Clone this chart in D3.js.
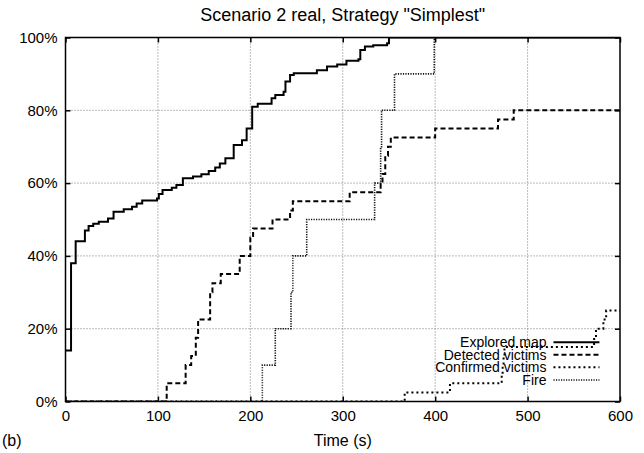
<!DOCTYPE html>
<html>
<head>
<meta charset="utf-8">
<script src="https://cdn.jsdelivr.net/npm/d3@7"></script>
<style>
  body { margin: 0; background: #fff; }
  svg { font-family: "Liberation Sans", Arial, sans-serif; }
</style>
</head>
<body>
<div id="chart"></div>
<script>
// tick labels
var xTicks = [0, 100, 200, 300, 400, 500, 600];
var yTicks = [0, 20, 40, 60, 80, 100];

// series (time in s, value in %)
var exploredT = [0, 6, 11, 21, 25, 30, 36, 46, 52, 63, 72, 77, 83, 99, 101, 105, 115, 120, 127, 138, 147, 155, 162, 167, 173, 182, 191, 196, 202, 208, 223, 227, 236, 238, 243, 247, 272, 283, 294, 304, 317, 319, 324, 333, 348, 350, 600];
var exploredV = [14, 38, 44, 47, 48.2, 48.8, 49.4, 50.3, 52.1, 52.8, 53.5, 54.4, 55.2, 55.8, 57, 58.1, 58.7, 59.5, 61.3, 61.8, 62.4, 63.3, 64.3, 65.4, 66.8, 70.5, 71.8, 75, 81, 81.8, 83.3, 84.2, 85.1, 87.9, 89.7, 90.2, 91, 92, 92.6, 93.6, 94, 96.6, 97.5, 97.9, 98.4, 100, 100];

var detectedT = [0, 109.5, 130, 136, 141, 143.5, 156.5, 159, 168, 188.5, 200, 203, 224, 243, 246, 307.5, 341, 343, 346, 349, 352, 400, 468, 485, 600];
var detectedV = [0, 5, 10, 12.5, 17.5, 22.5, 30, 32.5, 35, 40, 45, 47.5, 50, 52.5, 55, 57.5, 60, 62.5, 67.5, 70, 72.5, 75, 77.5, 80, 80];

var confirmedT = [0, 367, 416, 472, 473, 474, 475, 572, 574, 582, 585, 600];
var confirmedV = [0, 2.5, 5, 7.5, 10, 12.5, 15, 17.5, 20, 22.5, 25, 25];

var fireT = [0, 213, 227, 244, 246, 261, 334.5, 341, 342, 356, 399, 600];
var fireV = [0, 10, 20, 30, 40, 50, 60, 70, 80, 90, 100, 100];

var seriesNames = ["Explored map", "Detected victims", "Confirmed victims", "Fire"];

// set the dimensions and margins of the graph
var margin = {top: 37.5, right: 24, bottom: 51.5, left: 65.5},
    width = 644 - margin.left - margin.right,
    height = 453 - margin.top - margin.bottom;

var svg = d3.select("#chart")
    .append("svg")
    .attr("width", 644)
    .attr("height", 453);

var g = svg.append("g")
    .attr("transform", "translate(" + margin.left + "," + margin.top + ")");

var x = d3.scaleLinear().domain([0, 600]).range([0, width]);
var y = d3.scaleLinear().domain([0, 100]).range([height, 0]);

// grid
g.selectAll(".vgrid")
    .data(xTicks.slice(1, -1))
    .enter().append("line")
    .attr("x1", function(d) { return x(d); })
    .attr("x2", function(d) { return x(d); })
    .attr("y1", 0).attr("y2", height)
    .attr("stroke", "#777").attr("stroke-width", 1)
    .attr("stroke-dasharray", "1,2");

g.selectAll(".hgrid")
    .data(yTicks.slice(1, -1))
    .enter().append("line")
    .attr("y1", function(d) { return y(d); })
    .attr("y2", function(d) { return y(d); })
    .attr("x1", 0).attr("x2", width)
    .attr("stroke", "#777").attr("stroke-width", 1)
    .attr("stroke-dasharray", "1,2");

// axes with inward ticks
var fontSize = 15;
g.append("g")
    .attr("transform", "translate(0," + height + ")")
    .call(d3.axisBottom(x).tickValues(xTicks).tickSizeInner(-5).tickSizeOuter(0).tickPadding(9))
    .call(function(a) { a.select(".domain").remove(); })
    .selectAll("text").style("font-size", fontSize + "px");

g.append("g")
    .call(d3.axisTop(x).tickValues(xTicks).tickSizeInner(-5).tickSizeOuter(0))
    .call(function(a) { a.select(".domain").remove(); a.selectAll("text").remove(); });

g.append("g")
    .call(d3.axisLeft(y).tickValues(yTicks).tickSizeInner(-5).tickSizeOuter(0).tickPadding(8)
        .tickFormat(function(d) { return d + "%"; }))
    .call(function(a) { a.select(".domain").remove(); })
    .selectAll("text").style("font-size", fontSize + "px");

g.append("g")
    .attr("transform", "translate(" + width + ",0)")
    .call(d3.axisRight(y).tickValues(yTicks).tickSizeInner(-5).tickSizeOuter(0))
    .call(function(a) { a.select(".domain").remove(); a.selectAll("text").remove(); });

g.selectAll(".tick line").attr("stroke", "#000").attr("stroke-width", 1.5);

// clip
g.append("clipPath").attr("id", "clip")
    .append("rect").attr("width", width).attr("height", height);

var styles = [
    {stroke: "#000", dash: null, w: 2},
    {stroke: "#000", dash: "5,3", w: 2},
    {stroke: "#000", dash: "2,3", w: 2},
    {stroke: "#111", dash: "1.2,1.3", w: 1.6}
];

var data = [
    d3.zip(exploredT, exploredV),
    d3.zip(detectedT, detectedV),
    d3.zip(confirmedT, confirmedV),
    d3.zip(fireT, fireV)
];

var line = d3.line()
    .x(function(d) { return x(d[0]); })
    .y(function(d) { return y(d[1]); })
    .curve(d3.curveStepAfter);

var lines = g.append("g").attr("clip-path", "url(#clip)");
[3, 2, 1, 0].forEach(function(i) {
    lines.append("path")
        .attr("d", line(data[i]))
        .attr("fill", "none")
        .attr("stroke", styles[i].stroke)
        .attr("stroke-width", styles[i].w)
        .attr("stroke-dasharray", styles[i].dash);
});

// frame
g.append("rect")
    .attr("width", width).attr("height", height)
    .attr("fill", "none").attr("stroke", "#000").attr("stroke-width", 1.5);

// legend
var legend = g.append("g")
    .attr("transform", "translate(" + (x(528)) + "," + (y(16.3)) + ")");
seriesNames.forEach(function(name, i) {
    var row = legend.append("g").attr("transform", "translate(0," + (i * 12.6) + ")");
    row.append("text")
        .attr("x", -7).attr("y", 0)
        .attr("dy", "0.35em")
        .attr("text-anchor", "end")
        .style("font-size", "14px")
        .text(name);
    row.append("line")
        .attr("x1", 0).attr("x2", 46)
        .attr("y1", 0).attr("y2", 0)
        .attr("stroke", styles[i].stroke)
        .attr("stroke-width", styles[i].w)
        .attr("stroke-dasharray", styles[i].dash);
});

// titles
svg.append("text")
    .attr("x", margin.left + width / 2).attr("y", 21)
    .attr("text-anchor", "middle")
    .style("font-size", "18px")
    .text('Scenario 2 real, Strategy "Simplest"');

svg.append("text")
    .attr("x", margin.left + width / 2).attr("y", 446)
    .attr("text-anchor", "middle")
    .style("font-size", "16px")
    .text("Time (s)");

svg.append("text")
    .attr("x", 2).attr("y", 446)
    .style("font-size", "16px")
    .text("(b)");
</script>
</body>
</html>
